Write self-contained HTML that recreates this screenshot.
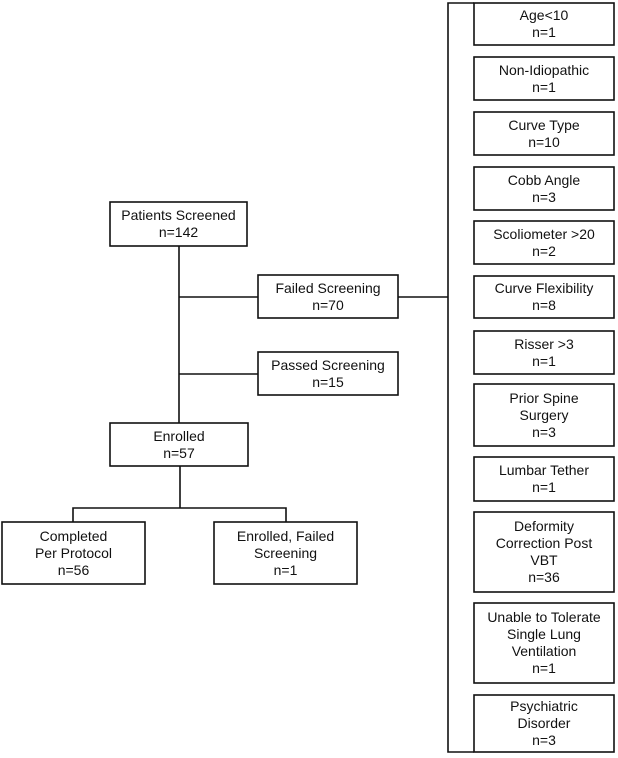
<!DOCTYPE html>
<html><head><meta charset="utf-8"><style>
html,body{margin:0;padding:0;background:#fff;}
svg{display:block;}
text{font-family:"Liberation Sans",Arial,sans-serif;font-size:14px;fill:#111;text-anchor:middle;}
</style></head><body>
<svg width="618" height="758" viewBox="0 0 618 758" xmlns="http://www.w3.org/2000/svg">
<g fill="#fff" stroke="#111" stroke-width="1.6">
<rect x="110" y="202" width="137" height="44"/>
<rect x="258" y="275" width="140" height="43"/>
<rect x="258" y="352" width="140" height="43"/>
<rect x="110" y="423" width="138" height="43"/>
<rect x="2" y="522" width="143" height="62"/>
<rect x="214" y="522" width="143" height="62"/>
<rect x="474" y="3" width="140" height="42"/>
<rect x="474" y="57" width="140" height="43"/>
<rect x="474" y="112" width="140" height="43"/>
<rect x="474" y="167" width="140" height="43"/>
<rect x="474" y="221" width="140" height="43"/>
<rect x="474" y="276" width="140" height="42"/>
<rect x="474" y="331" width="140" height="43"/>
<rect x="474" y="384" width="140" height="62"/>
<rect x="474" y="457" width="140" height="44"/>
<rect x="474" y="512" width="140" height="80"/>
<rect x="474" y="603" width="140" height="80"/>
<rect x="474" y="695" width="140" height="57"/>
</g>
<g fill="none" stroke="#111" stroke-width="1.6">
<path d="M179 246 V423"/>
<path d="M179 297 H258"/>
<path d="M179 374 H258"/>
<path d="M398 297 H448"/>
<path d="M474 3 H448 V752 H474"/>
<path d="M180 466 V508"/>
<path d="M73 522 V508 H286 V522"/>
</g>
<text x="178.5" y="220">Patients Screened</text><text x="178.5" y="237">n=142</text>
<text x="328" y="293">Failed Screening</text><text x="328" y="310">n=70</text>
<text x="328" y="370">Passed Screening</text><text x="328" y="387">n=15</text>
<text x="179" y="441">Enrolled</text><text x="179" y="458">n=57</text>
<text x="73.5" y="541">Completed</text><text x="73.5" y="558">Per Protocol</text><text x="73.5" y="575">n=56</text>
<text x="285.5" y="541">Enrolled, Failed</text><text x="285.5" y="558">Screening</text><text x="285.5" y="575">n=1</text>
<text x="544" y="20">Age&lt;10</text><text x="544" y="37">n=1</text>
<text x="544" y="75">Non-Idiopathic</text><text x="544" y="92">n=1</text>
<text x="544" y="130">Curve Type</text><text x="544" y="147">n=10</text>
<text x="544" y="185">Cobb Angle</text><text x="544" y="202">n=3</text>
<text x="544" y="239">Scoliometer &gt;20</text><text x="544" y="256">n=2</text>
<text x="544" y="293">Curve Flexibility</text><text x="544" y="310">n=8</text>
<text x="544" y="349">Risser &gt;3</text><text x="544" y="366">n=1</text>
<text x="544" y="403">Prior Spine</text><text x="544" y="420">Surgery</text><text x="544" y="437">n=3</text>
<text x="544" y="475">Lumbar Tether</text><text x="544" y="492">n=1</text>
<text x="544" y="531">Deformity</text><text x="544" y="548">Correction Post</text><text x="544" y="565">VBT</text><text x="544" y="582">n=36</text>
<text x="544" y="622">Unable to Tolerate</text><text x="544" y="639">Single Lung</text><text x="544" y="656">Ventilation</text><text x="544" y="673">n=1</text>
<text x="544" y="711">Psychiatric</text><text x="544" y="728">Disorder</text><text x="544" y="745">n=3</text>
</svg>
</body></html>
